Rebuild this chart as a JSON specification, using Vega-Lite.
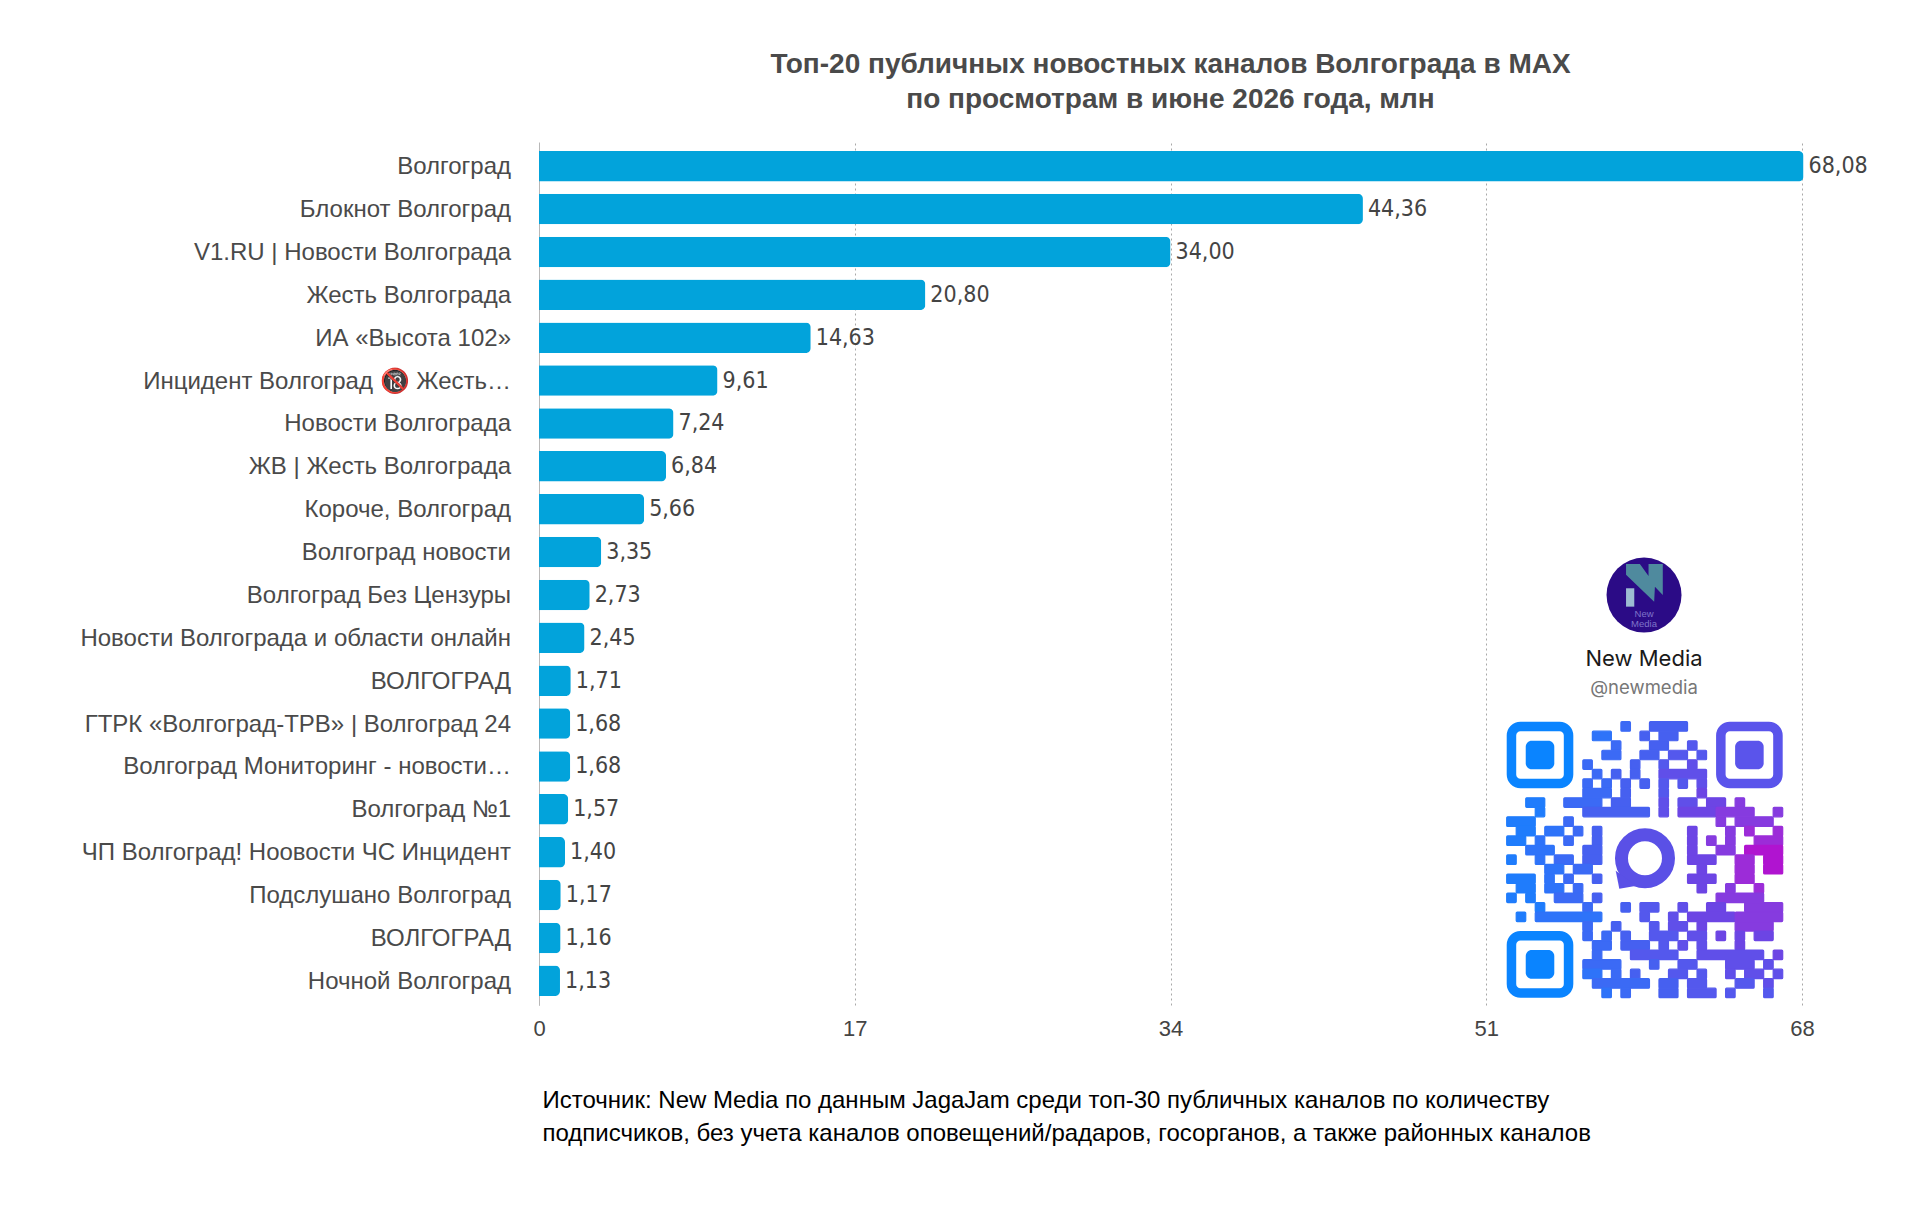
{
  "$schema": "https://vega.github.io/schema/vega-lite/v6.json",
  "width": 1263,
  "height": 863,
  "autosize": {"type": "none"},
  "padding": {"left": 539, "top": 142, "right": 118, "bottom": 205},
  "background": "white",
  "title": {
    "text": ["Топ-20 публичных новостных каналов Волгограда в MAX", "по просмотрам в июне 2026 года, млн"],
    "anchor": "middle",
    "frame": "group",
    "font": "Liberation Sans",
    "fontSize": 28,
    "fontWeight": "bold",
    "color": "#4a4a4a",
    "lineHeight": 35,
    "offset": 28
  },
  "datasets": {
    "channels": [
      {"rank": 1, "channel": "Волгоград", "views": 68.08},
      {"rank": 2, "channel": "Блокнот Волгоград", "views": 44.36},
      {"rank": 3, "channel": "V1.RU | Новости Волгограда", "views": 34.0},
      {"rank": 4, "channel": "Жесть Волгограда", "views": 20.8},
      {"rank": 5, "channel": "ИА «Высота 102»", "views": 14.63},
      {"rank": 6, "channel": "Инцидент Волгоград 🔞 Жесть…", "views": 9.61},
      {"rank": 7, "channel": "Новости Волгограда", "views": 7.24},
      {"rank": 8, "channel": "ЖВ | Жесть Волгограда", "views": 6.84},
      {"rank": 9, "channel": "Короче, Волгоград", "views": 5.66},
      {"rank": 10, "channel": "Волгоград новости", "views": 3.35},
      {"rank": 11, "channel": "Волгоград Без Цензуры", "views": 2.73},
      {"rank": 12, "channel": "Новости Волгограда и области онлайн", "views": 2.45},
      {"rank": 13, "channel": "ВОЛГОГРАД", "views": 1.71},
      {"rank": 14, "channel": "ГТРК «Волгоград-ТРВ» | Волгоград 24", "views": 1.68},
      {"rank": 15, "channel": "Волгоград Мониторинг - новости…", "views": 1.68},
      {"rank": 16, "channel": "Волгоград №1", "views": 1.57},
      {"rank": 17, "channel": "ЧП Волгоград! Ноовости ЧС Инцидент", "views": 1.4},
      {"rank": 18, "channel": "Подслушано Волгоград", "views": 1.17},
      {"rank": 19, "channel": "ВОЛГОГРАД", "views": 1.16},
      {"rank": 20, "channel": "Ночной Волгоград", "views": 1.13}
    ],
    "qr": [
      {"r":0,"s":1,"a":12,"b":13,"t":3},{"r":0,"s":1,"a":15,"b":19,"t":4},
      {"r":1,"s":2,"a":9,"b":11,"t":2},{"r":1,"s":2,"a":14,"b":15,"t":4},{"r":1,"s":2,"a":16,"b":18,"t":4},
      {"r":2,"s":3,"a":11,"b":12,"t":3},{"r":2,"s":3,"a":15,"b":17,"t":4},{"r":2,"s":3,"a":19,"b":20,"t":5},
      {"r":3,"s":4,"a":10,"b":12,"t":3},{"r":3,"s":4,"a":14,"b":16,"t":4},{"r":3,"s":4,"a":17,"b":19,"t":5},{"r":3,"s":4,"a":20,"b":21,"t":5},
      {"r":4,"s":5,"a":8,"b":9,"t":3},{"r":4,"s":5,"a":13,"b":14,"t":4},{"r":4,"s":5,"a":16,"b":17,"t":5},{"r":4,"s":5,"a":19,"b":20,"t":6},
      {"r":5,"s":6,"a":9,"b":10,"t":3},{"r":5,"s":6,"a":11,"b":12,"t":4},{"r":5,"s":6,"a":13,"b":14,"t":4},{"r":5,"s":6,"a":16,"b":21,"t":6},
      {"r":6,"s":7,"a":8,"b":9,"t":3},{"r":6,"s":7,"a":10,"b":11,"t":3},{"r":6,"s":7,"a":12,"b":13,"t":4},{"r":6,"s":7,"a":14,"b":15,"t":4},{"r":6,"s":7,"a":16,"b":17,"t":5},{"r":6,"s":7,"a":18,"b":19,"t":5},{"r":6,"s":7,"a":20,"b":21,"t":6},
      {"r":7,"s":8,"a":8,"b":11,"t":3},{"r":7,"s":8,"a":12,"b":13,"t":4},{"r":7,"s":8,"a":16,"b":17,"t":5},{"r":7,"s":8,"a":20,"b":21,"t":7},
      {"r":8,"s":9,"a":2,"b":4,"t":1},{"r":8,"s":9,"a":6,"b":10,"t":3},{"r":8,"s":9,"a":11,"b":13,"t":4},{"r":8,"s":9,"a":16,"b":17,"t":6},{"r":8,"s":9,"a":18,"b":20,"t":6},{"r":8,"s":9,"a":21,"b":23,"t":7},{"r":8,"s":9,"a":24,"b":25,"t":8},
      {"r":9,"s":10,"a":3,"b":4,"t":1},{"r":9,"s":10,"a":8,"b":15,"t":4},{"r":9,"s":10,"a":16,"b":17,"t":6},{"r":9,"s":10,"a":18,"b":22,"t":7},{"r":9,"s":10,"a":22,"b":26,"t":8},{"r":9,"s":10,"a":28,"b":29,"t":8},
      {"r":10,"s":11,"a":0,"b":3,"t":1},{"r":10,"s":11,"a":6,"b":7,"t":3},{"r":10,"s":11,"a":22,"b":23,"t":8},{"r":10,"s":11,"a":24,"b":28,"t":8},
      {"r":11,"s":12,"a":1,"b":3,"t":1},{"r":11,"s":12,"a":4,"b":6,"t":2},{"r":11,"s":12,"a":7,"b":8,"t":3},{"r":11,"s":12,"a":9,"b":10,"t":4},{"r":11,"s":12,"a":19,"b":20,"t":7},{"r":11,"s":12,"a":23,"b":24,"t":8},{"r":11,"s":12,"a":25,"b":26,"t":9},{"r":11,"s":12,"a":28,"b":29,"t":9},
      {"r":12,"s":13,"a":0,"b":2,"t":1},{"r":12,"s":13,"a":3,"b":4,"t":2},{"r":12,"s":13,"a":6,"b":7,"t":3},{"r":12,"s":13,"a":9,"b":10,"t":4},{"r":12,"s":13,"a":19,"b":20,"t":7},{"r":12,"s":13,"a":21,"b":22,"t":8},{"r":12,"s":13,"a":23,"b":24,"t":8},{"r":12,"s":13,"a":26,"b":29,"t":9},
      {"r":13,"s":14,"a":2,"b":5,"t":2},{"r":13,"s":14,"a":8,"b":10,"t":4},{"r":13,"s":14,"a":19,"b":20,"t":7},{"r":13,"s":14,"a":22,"b":24,"t":8},{"r":13,"s":14,"a":25,"b":29,"t":10},
      {"r":14,"s":15,"a":0,"b":1,"t":1},{"r":14,"s":15,"a":3,"b":4,"t":2},{"r":14,"s":15,"a":5,"b":7,"t":3},{"r":14,"s":15,"a":8,"b":10,"t":4},{"r":14,"s":15,"a":19,"b":22,"t":7},{"r":14,"s":15,"a":24,"b":26,"t":9},{"r":14,"s":15,"a":27,"b":29,"t":10},
      {"r":15,"s":16,"a":4,"b":6,"t":2},{"r":15,"s":16,"a":7,"b":9,"t":3},{"r":15,"s":16,"a":20,"b":21,"t":7},{"r":15,"s":16,"a":24,"b":26,"t":9},{"r":15,"s":16,"a":27,"b":29,"t":10},
      {"r":16,"s":17,"a":0,"b":3,"t":1},{"r":16,"s":17,"a":4,"b":5,"t":2},{"r":16,"s":17,"a":6,"b":7,"t":3},{"r":16,"s":17,"a":9,"b":10,"t":4},{"r":16,"s":17,"a":19,"b":22,"t":7},{"r":16,"s":17,"a":24,"b":26,"t":9},
      {"r":17,"s":18,"a":1,"b":3,"t":1},{"r":17,"s":18,"a":4,"b":6,"t":2},{"r":17,"s":18,"a":7,"b":8,"t":3},{"r":17,"s":18,"a":20,"b":21,"t":7},{"r":17,"s":18,"a":23,"b":24,"t":8},{"r":17,"s":18,"a":26,"b":27,"t":9},
      {"r":18,"s":19,"a":0,"b":1,"t":1},{"r":18,"s":19,"a":2,"b":3,"t":1},{"r":18,"s":19,"a":5,"b":8,"t":3},{"r":18,"s":19,"a":9,"b":10,"t":4},{"r":18,"s":19,"a":22,"b":27,"t":8},
      {"r":19,"s":20,"a":3,"b":4,"t":1},{"r":19,"s":20,"a":8,"b":9,"t":3},{"r":19,"s":20,"a":12,"b":13,"t":4},{"r":19,"s":20,"a":14,"b":16,"t":5},{"r":19,"s":20,"a":18,"b":19,"t":6},{"r":19,"s":20,"a":21,"b":23,"t":7},{"r":19,"s":20,"a":25,"b":29,"t":8},
      {"r":20,"s":21,"a":1,"b":2,"t":1},{"r":20,"s":21,"a":3,"b":10,"t":2},{"r":20,"s":21,"a":14,"b":15,"t":5},{"r":20,"s":21,"a":17,"b":18,"t":6},{"r":20,"s":21,"a":19,"b":24,"t":7},{"r":20,"s":21,"a":24,"b":29,"t":8},
      {"r":21,"s":22,"a":8,"b":9,"t":3},{"r":21,"s":22,"a":11,"b":12,"t":4},{"r":21,"s":22,"a":15,"b":16,"t":5},{"r":21,"s":22,"a":17,"b":19,"t":6},{"r":21,"s":22,"a":20,"b":21,"t":7},{"r":21,"s":22,"a":24,"b":28,"t":8},
      {"r":22,"s":23,"a":8,"b":9,"t":3},{"r":22,"s":23,"a":10,"b":11,"t":3},{"r":22,"s":23,"a":12,"b":13,"t":4},{"r":22,"s":23,"a":15,"b":18,"t":5},{"r":22,"s":23,"a":19,"b":21,"t":6},{"r":22,"s":23,"a":22,"b":23,"t":7},{"r":22,"s":23,"a":24,"b":25,"t":7},{"r":22,"s":23,"a":26,"b":28,"t":7},
      {"r":23,"s":24,"a":9,"b":11,"t":3},{"r":23,"s":24,"a":12,"b":15,"t":4},{"r":23,"s":24,"a":16,"b":17,"t":5},{"r":23,"s":24,"a":18,"b":19,"t":6},{"r":23,"s":24,"a":20,"b":21,"t":6},{"r":23,"s":24,"a":24,"b":25,"t":7},
      {"r":24,"s":25,"a":9,"b":10,"t":3},{"r":24,"s":25,"a":13,"b":18,"t":5},{"r":24,"s":25,"a":20,"b":27,"t":6},{"r":24,"s":25,"a":28,"b":29,"t":7},
      {"r":25,"s":26,"a":8,"b":12,"t":3},{"r":25,"s":26,"a":15,"b":16,"t":4},{"r":25,"s":26,"a":18,"b":20,"t":5},{"r":25,"s":26,"a":23,"b":26,"t":6},{"r":25,"s":26,"a":27,"b":28,"t":6},
      {"r":26,"s":27,"a":8,"b":10,"t":2},{"r":26,"s":27,"a":11,"b":12,"t":3},{"r":26,"s":27,"a":13,"b":14,"t":4},{"r":26,"s":27,"a":17,"b":19,"t":5},{"r":26,"s":27,"a":20,"b":21,"t":5},{"r":26,"s":27,"a":23,"b":24,"t":6},{"r":26,"s":27,"a":25,"b":27,"t":6},{"r":26,"s":27,"a":28,"b":29,"t":6},
      {"r":27,"s":28,"a":9,"b":15,"t":3},{"r":27,"s":28,"a":16,"b":18,"t":4},{"r":27,"s":28,"a":19,"b":21,"t":5},{"r":27,"s":28,"a":24,"b":26,"t":5},{"r":27,"s":28,"a":27,"b":28,"t":6},
      {"r":28,"s":29,"a":10,"b":11,"t":2},{"r":28,"s":29,"a":12,"b":13,"t":3},{"r":28,"s":29,"a":16,"b":18,"t":4},{"r":28,"s":29,"a":19,"b":22,"t":5},{"r":28,"s":29,"a":23,"b":24,"t":5},{"r":28,"s":29,"a":27,"b":28,"t":5}
    ],
    "rings": [
      {"x0":0.5,"x1":6.5,"y0":0.5,"y1":6.5,"t":0},
      {"x0":22.5,"x1":28.5,"y0":0.5,"y1":6.5,"t":5.5},
      {"x0":0.5,"x1":6.5,"y0":22.5,"y1":28.5,"t":0}
    ],
    "eyes": [
      {"x0":2,"x1":5,"y0":2,"y1":5,"t":0},
      {"x0":24,"x1":27,"y0":2,"y1":5,"t":5.5},
      {"x0":2,"x1":5,"y0":24,"y1":27,"t":0}
    ]
  },
  "resolve": {"scale": {"x": "independent", "y": "independent"}},
  "layer": [
    {
      "data": {"name": "channels"},
      "encoding": {
        "y": {
          "field": "rank",
          "type": "ordinal",
          "scale": {"paddingInner": 0.29, "paddingOuter": 0.21},
          "axis": {"labels": false, "ticks": false, "title": null, "grid": false, "domainColor": "#b8b8b8", "domainWidth": 1}
        },
        "x": {
          "field": "views",
          "type": "quantitative",
          "scale": {"domain": [0, 68], "nice": false},
          "axis": {
            "values": [0, 17, 34, 51, 68],
            "grid": true,
            "gridColor": "#a8a8a8",
            "gridDash": [2, 3],
            "gridWidth": 1,
            "domain": false,
            "ticks": false,
            "labelFont": "Liberation Sans",
            "labelFontSize": 22,
            "labelColor": "#444444",
            "labelPadding": 13,
            "labelFlush": false,
            "title": ["Источник: New Media по данным JagaJam среди топ-30 публичных каналов по количеству", "подписчиков, без учета каналов оповещений/радаров, госорганов, а также районных каналов"],
            "titleFont": "Liberation Sans",
            "titleFontSize": 24,
            "titleFontWeight": "normal",
            "titleColor": "#000000",
            "titleLineHeight": 33,
            "titleAlign": "left",
            "titleAnchor": "start",
            "titleBaseline": "alphabetic",
            "titleX": 3,
            "titleY": 102
          }
        }
      },
      "layer": [
        {"mark": {"type": "bar", "color": "#02a3db", "cornerRadiusEnd": 5}},
        {
          "mark": {"type": "text", "align": "left", "baseline": "middle", "dx": 5, "font": "DejaVu Sans Condensed", "fontSize": 23, "color": "#444444"},
          "encoding": {"text": {"field": "views", "type": "quantitative", "format": ".2f"}}
        },
        {
          "mark": {"type": "text", "align": "right", "baseline": "middle", "dx": -28, "dy": 1, "font": "Liberation Sans", "fontSize": 24, "color": "#4a4a4a"},
          "encoding": {"x": {"datum": 0, "type": "quantitative"}, "text": {"field": "channel", "type": "nominal"}}
        }
      ]
    },
    {
      "encoding": {
        "x": {"type": "quantitative", "scale": {"domain": [0, 29], "range": [967.7, 1243.7], "nice": false, "zero": false}, "axis": null},
        "y": {"type": "quantitative", "scale": {"domain": [0, 29], "range": [579.7, 855.7], "nice": false, "zero": false}, "axis": null}
      },
      "layer": [
        {
          "data": {"name": "qr"},
          "mark": {"type": "rect", "cornerRadius": 1, "strokeWidth": 1.2},
          "encoding": {
            "x": {"field": "a", "type": "quantitative"}, "x2": {"field": "b"},
            "y": {"field": "r", "type": "quantitative"}, "y2": {"field": "s"},
            "color": {"field": "t", "type": "quantitative", "legend": null, "scale": {"domain": [0, 4, 7, 10], "range": ["#0a84ff", "#4660f0", "#6c45e4", "#b014d0"]}},
            "stroke": {"field": "t", "type": "quantitative", "legend": null, "scale": {"domain": [0, 4, 7, 10], "range": ["#0a84ff", "#4660f0", "#6c45e4", "#b014d0"]}}
          }
        },
        {
          "data": {"name": "rings"},
          "mark": {"type": "rect", "filled": false, "strokeWidth": 9.5, "cornerRadius": 9},
          "encoding": {
            "x": {"field": "x0", "type": "quantitative"}, "x2": {"field": "x1"},
            "y": {"field": "y0", "type": "quantitative"}, "y2": {"field": "y1"},
            "color": {"field": "t", "type": "quantitative", "legend": null, "scale": {"domain": [0, 4, 7, 10], "range": ["#0a84ff", "#4660f0", "#6c45e4", "#b014d0"]}}
          }
        },
        {
          "data": {"name": "eyes"},
          "mark": {"type": "rect", "cornerRadius": 6},
          "encoding": {
            "x": {"field": "x0", "type": "quantitative"}, "x2": {"field": "x1"},
            "y": {"field": "y0", "type": "quantitative"}, "y2": {"field": "y1"},
            "color": {"field": "t", "type": "quantitative", "legend": null, "scale": {"domain": [0, 4, 7, 10], "range": ["#0a84ff", "#4660f0", "#6c45e4", "#b014d0"]}}
          }
        },
        {
          "data": {"values": [{"c": 14.53, "r": 14.35}]},
          "mark": {"type": "point", "filled": false, "stroke": "#5a50e6", "strokeWidth": 13, "size": 2209, "opacity": 1},
          "encoding": {"x": {"field": "c", "type": "quantitative"}, "y": {"field": "r", "type": "quantitative"}}
        },
        {
          "data": {"values": [{"c": 12.4, "r": 16.7}]},
          "mark": {"type": "point", "filled": true, "color": "#5a50e6", "shape": "M-0.9,-1L-0.54,0.8L1.2,0.5Z", "size": 400, "opacity": 1},
          "encoding": {"x": {"field": "c", "type": "quantitative"}, "y": {"field": "r", "type": "quantitative"}}
        },
        {
          "data": {"values": [{"c": 14.43, "r": -13.31}]},
          "mark": {"type": "point", "filled": true, "color": "#2b0b86", "shape": "circle", "size": 5625, "opacity": 1},
          "encoding": {"x": {"field": "c", "type": "quantitative"}, "y": {"field": "r", "type": "quantitative"}}
        },
        {
          "data": {"values": [{"c": 14.43, "r": -13.31}]},
          "mark": {"type": "point", "filled": true, "color": "#4f8a9e", "shape": "M-0.48,-0.83L-0.11,-0.83L0.12,-0.51L0.12,-0.83L0.5,-0.83L0.5,0L0.29,-0.22L0.27,0.18L-0.48,-0.54Z", "size": 5625, "opacity": 1},
          "encoding": {"x": {"field": "c", "type": "quantitative"}, "y": {"field": "r", "type": "quantitative"}}
        },
        {
          "data": {"values": [{"c": 14.43, "r": -13.31}]},
          "mark": {"type": "point", "filled": true, "color": "#9dbcd2", "shape": "M-0.48,-0.18L-0.26,-0.18L-0.26,0.31L-0.48,0.31Z", "size": 5625, "opacity": 1},
          "encoding": {"x": {"field": "c", "type": "quantitative"}, "y": {"field": "r", "type": "quantitative"}}
        },
        {
          "data": {"values": [{"c": 14.43, "r": -11.3, "label": "New"}, {"c": 14.43, "r": -10.25, "label": "Media"}]},
          "mark": {"type": "text", "font": "Liberation Sans", "fontSize": 9.5, "color": "#7f74c9", "baseline": "middle"},
          "encoding": {"x": {"field": "c", "type": "quantitative"}, "y": {"field": "r", "type": "quantitative"}, "text": {"field": "label"}}
        },
        {
          "data": {"values": [{"c": 14.43, "r": -6.59, "label": "New Media"}]},
          "mark": {"type": "text", "font": "Inter", "fontSize": 22, "color": "#1a1a1a", "baseline": "middle"},
          "encoding": {"x": {"field": "c", "type": "quantitative"}, "y": {"field": "r", "type": "quantitative"}, "text": {"field": "label"}}
        },
        {
          "data": {"values": [{"c": 14.43, "r": -3.53, "label": "@newmedia"}]},
          "mark": {"type": "text", "font": "Inter", "fontSize": 18.5, "color": "#777777", "baseline": "middle"},
          "encoding": {"x": {"field": "c", "type": "quantitative"}, "y": {"field": "r", "type": "quantitative"}, "text": {"field": "label"}}
        }
      ]
    }
  ],
  "config": {
    "view": {"stroke": null},
    "locale": {"number": {"decimal": ",", "thousands": " ", "grouping": [3], "currency": ["", ""]}}
  }
}
